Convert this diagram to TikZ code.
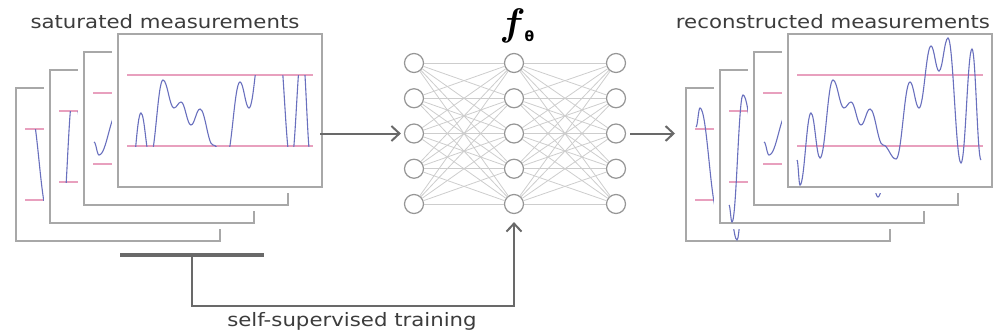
\documentclass[tikz,border=0pt]{standalone}
\usepackage{amsmath}
\usepackage{graphicx}
\usepackage{fontspec}
\newfontfamily\labfont[FakeStretch=1.15]{DejaVu Sans}
\newfontfamily\thetafont{DejaVu Sans}
\usetikzlibrary{arrows.meta,calc}
\definecolor{framegray}{RGB}{168,168,168}
\definecolor{pinkline}{RGB}{232,160,190}
\definecolor{sigblue}{RGB}{105,112,190}
\definecolor{edgegray}{RGB}{205,205,205}
\definecolor{neurongray}{RGB}{150,150,150}
\definecolor{arrowgray}{RGB}{105,105,105}
\definecolor{textgray}{RGB}{60,60,60}
\newcommand\wave[3]{\draw[sig] (#1,#2) foreach \x/\y [remember=\x as \lx (initially #1)] in {#3} { .. controls +({0.4*(\x-\lx)},0) and +({-0.4*(\x-\lx)},0) .. (\x,\y) };}
\newcommand\sigD{\wave{9}{126}{12/151,23/79,32/124,45/46,56/74,63/68,73/91,82/75,95/111,108/125,122/48,131/74,143/12,151/37,160/4,173/129,184/15,193/126}}
\newcommand\sigC{\wave{10}{90}{15/103,34/60,50/95,70/30,90/100,110/70,124/145,140/60,160/120,180/20,195/90}}
\newcommand\sigB{\wave{9}{135}{12/152,23/25,40/110,60/50,80/120,100/40,125/100,150/30,175/110,195/60}}
\newcommand\sigA{\wave{10}{39}{14/20,32/125,42/112,51/152,57/110,75/50,95/100,115/40,140/90,170/30,195/80}}
\begin{document}
\begin{tikzpicture}[x=1pt,y=-1pt,
  frame/.style={draw=framegray, line width=1.2pt, fill=white, rectangle, inner sep=0pt, outer sep=0pt,
    minimum width=204pt, minimum height=153pt, anchor=north west,
    preaction={draw=white, line width=12pt}},
  sig/.style={draw=sigblue, line width=1.1pt},
  pk/.style={draw=pinkline, line width=1.1pt},
  neuron/.style={circle, draw=neurongray, line width=1.2pt, fill=white, minimum size=19pt, inner sep=0pt},
  edge/.style={draw=edgegray, line width=0.8pt},
  arr/.style={draw=arrowgray, line width=2pt, -{Straight Barb[length=8pt,width=15pt]}},
  bar/.style={draw=arrowgray, line width=3.5pt},
  lab/.style={text=textgray, font=\labfont\fontsize{18.5}{20}\selectfont, inner sep=0pt}]
\useasboundingbox (0,0) rectangle (994,333);

% saturated stack
\foreach \i/\L/\T/\S in {1/16/88/\sigA,2/50/70/\sigB,3/84/52/\sigC,4/118/34/\sigD}{
  \node[frame] (s\i) at (\L,\T) {};
  \begin{scope}[shift={(\L,\T)}]
    \draw[pk] (9,41) -- (195,41);
    \draw[pk] (9,112) -- (195,112);
    \begin{scope}
      \clip (0,41) rectangle (204,112);
      \S
    \end{scope}
  \end{scope}
}

% reconstructed stack
\foreach \i/\L/\T/\S in {1/686/88/\sigA,2/720/70/\sigB,3/754/52/\sigC,4/788/34/\sigD}{
  \node[frame] (r\i) at (\L,\T) {};
  \begin{scope}[shift={(\L,\T)}]
    \draw[pk] (9,41) -- (195,41);
    \draw[pk] (9,112) -- (195,112);
    \begin{scope}
      \clip (0,0) rectangle (204,153);
      \S
    \end{scope}
  \end{scope}
}

% network
\foreach \c/\xx in {1/414,2/514,3/616}{
  \foreach \r in {1,...,5}{
    \node[neuron] (n\c\r) at (\xx,{63+35.25*(\r-1)}) {};
  }
}
\foreach \a in {1,...,5}{
  \foreach \b in {1,...,5}{
    \draw[edge] (n1\a) -- (n2\b);
    \draw[edge] (n2\a) -- (n3\b);
  }
}

\node[inner sep=0pt, anchor=base] (ftheta) at (517,35) {\fontsize{20}{20}\selectfont\scalebox{1.85}{$\boldsymbol{f}$}\hspace{-1pt}\raisebox{-6pt}{\thetafont\bfseries\fontsize{14}{14}\selectfont θ}};

% labels
\node[lab, anchor=base] (tsat) at (165,28) {saturated measurements};
\node[lab, anchor=base] (trec) at (833,28) {reconstructed measurements};
\node[lab, anchor=base] (ttrain) at (352,326) {self-supervised training};

% arrows
\draw[arr, shorten <=-2pt, shorten >=3pt] (s4.east |- n13) -- (n13);
\draw[arr, shorten <=4pt, shorten >=11pt] (n33) -- (r1.west |- n33);

\coordinate (bl) at (120,255);
\coordinate (br) at (264,255);
\coordinate (bm) at (192,255);
\coordinate (bd) at (192,306);
\draw[bar] (bl) -- (br);
\draw[arr, shorten >=8pt] (bm) -- (bd) -| (n25);
\end{tikzpicture}
\end{document}
